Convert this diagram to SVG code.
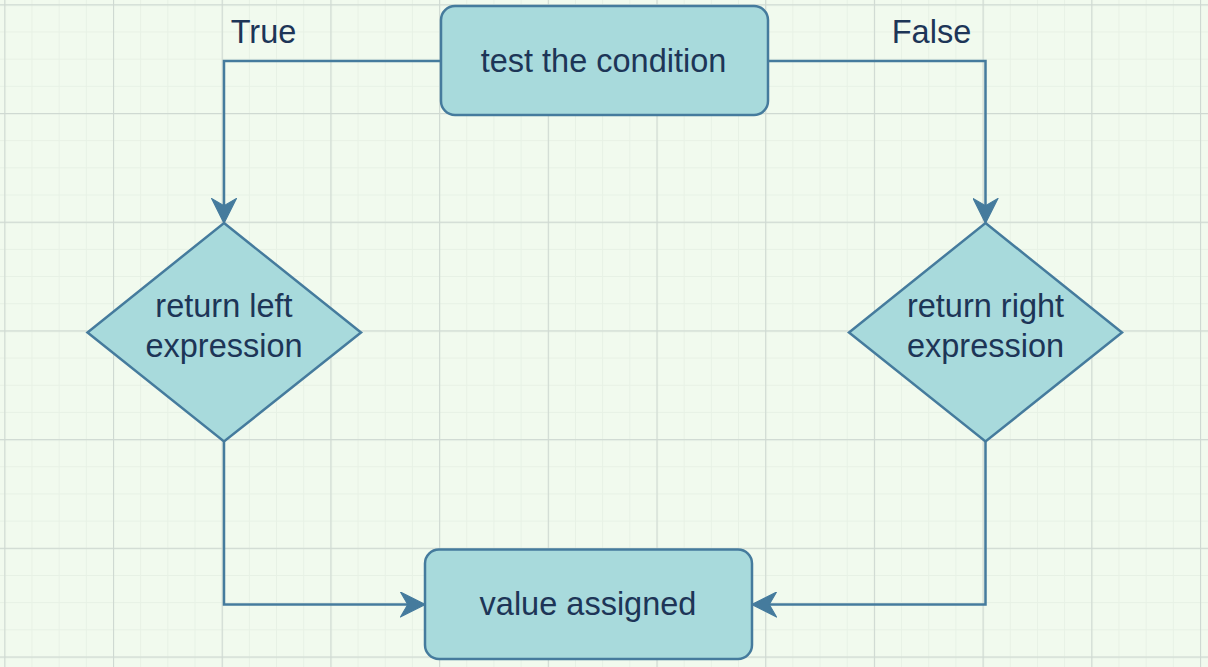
<svg xmlns="http://www.w3.org/2000/svg" width="1208" height="667" viewBox="0 0 1208 667">
  <style>
    .node { fill: #a8dadc; stroke: #457b9d; stroke-width: 2.5; }
    .lbl { font-family: "Liberation Sans", Arial, sans-serif; font-size: 32.5px; fill: #1d3557; text-anchor: middle; }
    .edge { fill: none; stroke: #457b9d; stroke-width: 2.5; }
  </style>
  <defs>
    <pattern id="minor" patternUnits="userSpaceOnUse" x="4.3" y="4.3" width="27.175" height="27.175">
      <path d="M0,0.5 H27.175 M0.5,0 V27.175" fill="none" stroke="#e7f1e5" stroke-width="1"/>
    </pattern>
    <pattern id="major" patternUnits="userSpaceOnUse" x="4.3" y="4.3" width="108.7" height="108.7">
      <path d="M0,0.5 H108.7 M0.5,0 V108.7" fill="none" stroke="#cfd9d2" stroke-width="1.3"/>
    </pattern>
    <marker id="arr" markerUnits="userSpaceOnUse" markerWidth="26" markerHeight="26" viewBox="0 0 25 24" refX="14" refY="12" orient="auto">
      <path d="M0,0 L24,12 L0,24 L7,12 Z" fill="#457b9d" stroke="#457b9d" stroke-width="1" stroke-linejoin="miter"/>
    </marker>
  </defs>
  <rect x="0" y="0" width="1208" height="667" fill="#f1faee"/>
  <rect x="0" y="0" width="1208" height="667" fill="url(#minor)"/>
  <rect x="0" y="0" width="1208" height="667" fill="url(#major)"/>

  <g id="connectors">
    <path class="edge" d="M441,61 H224 V213" marker-end="url(#arr)"/>
    <path class="edge" d="M768,61 H985.5 V213" marker-end="url(#arr)"/>
    <path class="edge" d="M224,441.5 V604.5 H415" marker-end="url(#arr)"/>
    <path class="edge" d="M985.5,441.5 V604.5 H762" marker-end="url(#arr)"/>
    <text class="lbl" x="263.5" y="43">True</text>
    <text class="lbl" x="931.5" y="43">False</text>
  </g>

  <g id="test">
    <rect class="node" x="441" y="6" width="327" height="109" rx="14" ry="14"/>
    <text class="lbl" x="603.5" y="72">test the condition</text>
  </g>

  <g id="left">
    <polygon class="node" points="224,223 361,332.5 224,441.5 87.5,332.5"/>
    <text class="lbl" x="224" y="316.5">return left</text>
    <text class="lbl" x="224" y="356.5">expression</text>
  </g>

  <g id="right">
    <polygon class="node" points="985.5,223 1122,332.5 985.5,441.5 849,332.5"/>
    <text class="lbl" x="985.5" y="316.5">return right</text>
    <text class="lbl" x="985.5" y="356.5">expression</text>
  </g>

  <g id="assigned">
    <rect class="node" x="425" y="549.5" width="327" height="109.5" rx="14" ry="14"/>
    <text class="lbl" x="588" y="615">value assigned</text>
  </g>
</svg>
